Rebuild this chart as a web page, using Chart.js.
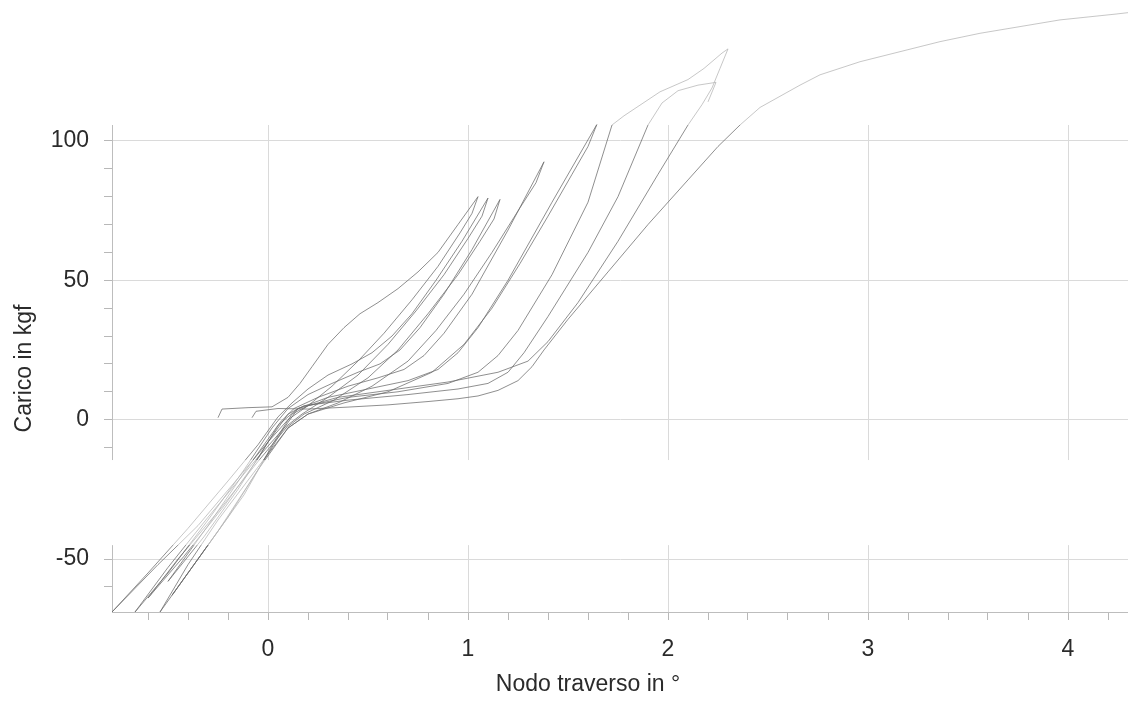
<!DOCTYPE html>
<html lang="it">
<head>
<meta charset="utf-8">
<title>Carico - Nodo traverso</title>
<script src="https://cdn.jsdelivr.net/npm/chart.js@4.4.0/dist/chart.umd.min.js"></script>
<style>
  html, body { margin: 0; padding: 0; background: #fff; }
  #wrap { width: 1128px; height: 702px; position: relative; }
</style>
</head>
<body>
<div id="wrap"><canvas id="chart"></canvas></div>
<script>
// Tick labels
const xTickLabels = [0, 1, 2, 3, 4];
const yTickLabels = [-50, 0, 50, 100];

// Cycles: [nodo traverso in °, carico in kgf]
const ciclo1 = [[-0.25, 0.7], [-0.23, 3.8], [-0.1, 4.3], [0.02, 4.6], [0.1, 8], [0.16, 13], [0.22, 19], [0.3, 27], [0.38, 33], [0.46, 38], [0.55, 42], [0.65, 47], [0.75, 53], [0.85, 60], [0.95, 70], [1.05, 80],
  [1.02, 74], [0.96, 67], [0.85, 55], [0.72, 43], [0.58, 31], [0.45, 21], [0.32, 12], [0.2, 5], [0.1, 0], [0.0, -8], [-0.15, -21], [-0.35, -38], [-0.55, -52], [-0.78, -69]];
const ciclo2 = [[-0.78, -69], [-0.6, -55], [-0.4, -39], [-0.2, -22], [-0.05, -9], [0.05, 1], [0.12, 6], [0.2, 11], [0.3, 16], [0.42, 20], [0.52, 24], [0.62, 30], [0.72, 38], [0.84, 50], [0.97, 64], [1.1, 79.5],
  [1.07, 73], [1.0, 65], [0.88, 52], [0.74, 39], [0.6, 27], [0.45, 16], [0.3, 8], [0.17, 2], [0.08, -3], [-0.08, -16], [-0.3, -35], [-0.5, -53], [-0.665, -69]];
const ciclo3 = [[-0.665, -69], [-0.5, -55], [-0.3, -36], [-0.12, -18], [0.02, -3], [0.1, 4], [0.2, 9], [0.32, 13], [0.45, 17], [0.56, 20], [0.66, 25], [0.76, 33], [0.88, 45], [1.02, 61], [1.16, 79],
  [1.13, 72], [1.06, 64], [0.95, 52], [0.8, 38], [0.65, 25], [0.5, 15], [0.33, 7], [0.18, 2], [0.09, -3], [-0.05, -15], [-0.25, -33], [-0.45, -50], [-0.6, -64]];
const ciclo4 = [[-0.6, -64], [-0.42, -49], [-0.22, -31], [-0.05, -14], [0.06, -1], [0.13, 4], [0.25, 8], [0.4, 12], [0.55, 15], [0.68, 18], [0.78, 23], [0.88, 31], [1.02, 45], [1.2, 68], [1.38, 92.5],
  [1.34, 85], [1.26, 76], [1.12, 60], [0.98, 45], [0.84, 32], [0.7, 21], [0.52, 12], [0.35, 6], [0.2, 2], [0.1, -3], [-0.05, -17], [-0.25, -36], [-0.4, -52], [-0.54, -69]];
const ciclo5 = [[-0.54, -69], [-0.38, -53], [-0.2, -35], [-0.05, -18], [0.08, -3], [0.15, 4], [0.3, 8], [0.5, 11], [0.7, 14], [0.85, 18], [0.95, 24], [1.05, 33], [1.2, 50], [1.42, 78], [1.645, 106],
  [1.6, 98], [1.52, 88], [1.4, 73], [1.26, 56], [1.12, 40], [0.98, 27], [0.82, 17], [0.6, 10], [0.38, 6], [0.2, 2], [0.1, -3], [-0.05, -18], [-0.25, -40], [-0.48, -63]];
const ciclo6 = [[-0.48, -63], [-0.3, -45], [-0.12, -27], [0.03, -8], [0.12, 2], [0.2, 5], [0.4, 8], [0.65, 10], [0.9, 13], [1.05, 17], [1.15, 23], [1.25, 32], [1.42, 52], [1.6, 78], [1.72, 105.7], [1.78, 109], [1.96, 117.6], [2.1, 122], [2.18, 126], [2.27, 131.5], [2.3, 133],
  [2.26, 126], [2.22, 119], [2.17, 113], [2.1, 105.7], [1.95, 88], [1.75, 64], [1.55, 42], [1.4, 28], [1.3, 21], [1.15, 17], [0.9, 13.5], [0.6, 10.5], [0.35, 8], [0.15, 4], [0.05, -2], [-0.1, -17], [-0.3, -38], [-0.5, -58]];
const ciclo7 = [[-0.5, -58], [-0.32, -42], [-0.15, -25], [0.0, -8], [0.1, 2], [0.18, 5], [0.4, 7], [0.7, 9], [0.95, 11], [1.1, 13], [1.2, 17], [1.28, 24], [1.4, 37], [1.6, 60], [1.75, 80], [1.9, 105.7], [1.97, 113.6], [2.05, 118], [2.15, 120], [2.24, 121],
  [2.2, 114]];
const ciclo8 = [[-0.08, 0.7], [-0.06, 3], [0.05, 4], [0.2, 3.8], [0.4, 4.5], [0.6, 5.3], [0.8, 6.5], [0.95, 7.5], [1.05, 8.5], [1.15, 10.5], [1.25, 14], [1.32, 19], [1.38, 25], [1.5, 36], [1.7, 53], [1.9, 70], [2.1, 86], [2.25, 98], [2.36, 105.7],
  [2.46, 112], [2.56, 116], [2.66, 120], [2.76, 123.7], [2.96, 128.4], [3.16, 132], [3.36, 135.6], [3.56, 138.6], [3.76, 141], [3.96, 143.4], [4.24, 145.5], [4.3, 146]];

const cicli = [ciclo1, ciclo2, ciclo3, ciclo4, ciclo5, ciclo6, ciclo7, ciclo8];

document.addEventListener('DOMContentLoaded', function () {
  const FONT = { family: '"Liberation Sans", Arial, sans-serif', size: 23 };
  const TEXT = '#2b2b2b';
  const X_TITLE = 'Nodo traverso in °';

  // Scanned page look: blank band across the lower part, faded lines outside the frame
  const scanBands = {
    id: 'scanBands',
    beforeDatasetsDraw(chart) {
      const { ctx, scales } = chart;
      const top = scales.y.getPixelForValue(-14.5);
      const bottom = scales.y.getPixelForValue(-45);
      ctx.save();
      ctx.fillStyle = '#fff';
      ctx.fillRect(96, top, chart.width, bottom - top);
      ctx.restore();
    },
    afterDatasetsDraw(chart) {
      const { ctx, scales, chartArea } = chart;
      const top = scales.y.getPixelForValue(-14.5);
      const bottom = scales.y.getPixelForValue(-45);
      ctx.save();
      ctx.fillStyle = 'rgba(255,255,255,0.5)';
      ctx.fillRect(96, top, chart.width, bottom - top);
      ctx.fillRect(0, 0, chart.width, chartArea.top);
      ctx.restore();
    },
    // x title sits left of the frame centre in the original
    afterDraw(chart) {
      const { ctx, scales } = chart;
      ctx.save();
      ctx.font = FONT.size + 'px ' + FONT.family;
      ctx.fillStyle = TEXT;
      ctx.textAlign = 'center';
      ctx.textBaseline = 'middle';
      ctx.fillText(X_TITLE, scales.x.getPixelForValue(1.6), scales.x.bottom - 17);
      ctx.restore();
    }
  };

  const isMajor = (v, list) => list.some(t => Math.abs(t - v) < 1e-6);

  const datasets = cicli.map(function (ciclo, i) {
    return {
      label: 'Ciclo ' + (i + 1),
      data: ciclo.map(p => ({ x: p[0], y: p[1] })),
      showLine: true,
      borderColor: 'rgba(105,105,105,0.75)',
      borderWidth: 1,
      pointRadius: 0,
      tension: 0,
      clip: { left: 0, right: 0, bottom: 0, top: false }
    };
  });

  const ctx = document.getElementById('chart').getContext('2d');
  new Chart(ctx, {
    type: 'scatter',
    data: { datasets: datasets },
    options: {
      responsive: true,
      maintainAspectRatio: false,
      animation: false,
      layout: { padding: { top: 125, right: 0, bottom: 0, left: 0 } },
      plugins: {
        legend: { display: false },
        tooltip: { enabled: false }
      },
      scales: {
        x: {
          type: 'linear',
          min: -0.78,
          max: 4.3,
          afterFit: function (scale) { scale.height = 90; },
          border: { color: '#bdbdbd' },
          grid: {
            color: c => isMajor(c.tick.value, xTickLabels) ? '#dadada' : 'rgba(0,0,0,0)',
            tickColor: '#b8b8b8',
            tickLength: 8
          },
          ticks: {
            stepSize: 0.2,
            includeBounds: false,
            autoSkip: false,
            maxRotation: 0,
            padding: 16,
            color: TEXT,
            font: FONT,
            callback: v => isMajor(v, xTickLabels) ? String(Math.round(v)) : ''
          },
          title: { display: false }
        },
        y: {
          type: 'linear',
          min: -69,
          max: 105.7,
          afterFit: function (scale) { scale.width = 112; },
          border: { color: '#bdbdbd' },
          grid: {
            color: c => isMajor(c.tick.value, yTickLabels) ? '#dadada' : 'rgba(0,0,0,0)',
            tickColor: '#b8b8b8',
            tickLength: 8
          },
          ticks: {
            stepSize: 10,
            includeBounds: false,
            autoSkip: false,
            padding: 15,
            color: TEXT,
            font: FONT,
            callback: v => isMajor(v, yTickLabels) ? String(Math.round(v)) : ''
          },
          title: {
            display: true,
            text: 'Carico in kgf',
            color: TEXT,
            font: FONT,
            padding: { top: 11, bottom: 0 }
          }
        }
      }
    },
    plugins: [scanBands]
  });
});
</script>
</body>
</html>
